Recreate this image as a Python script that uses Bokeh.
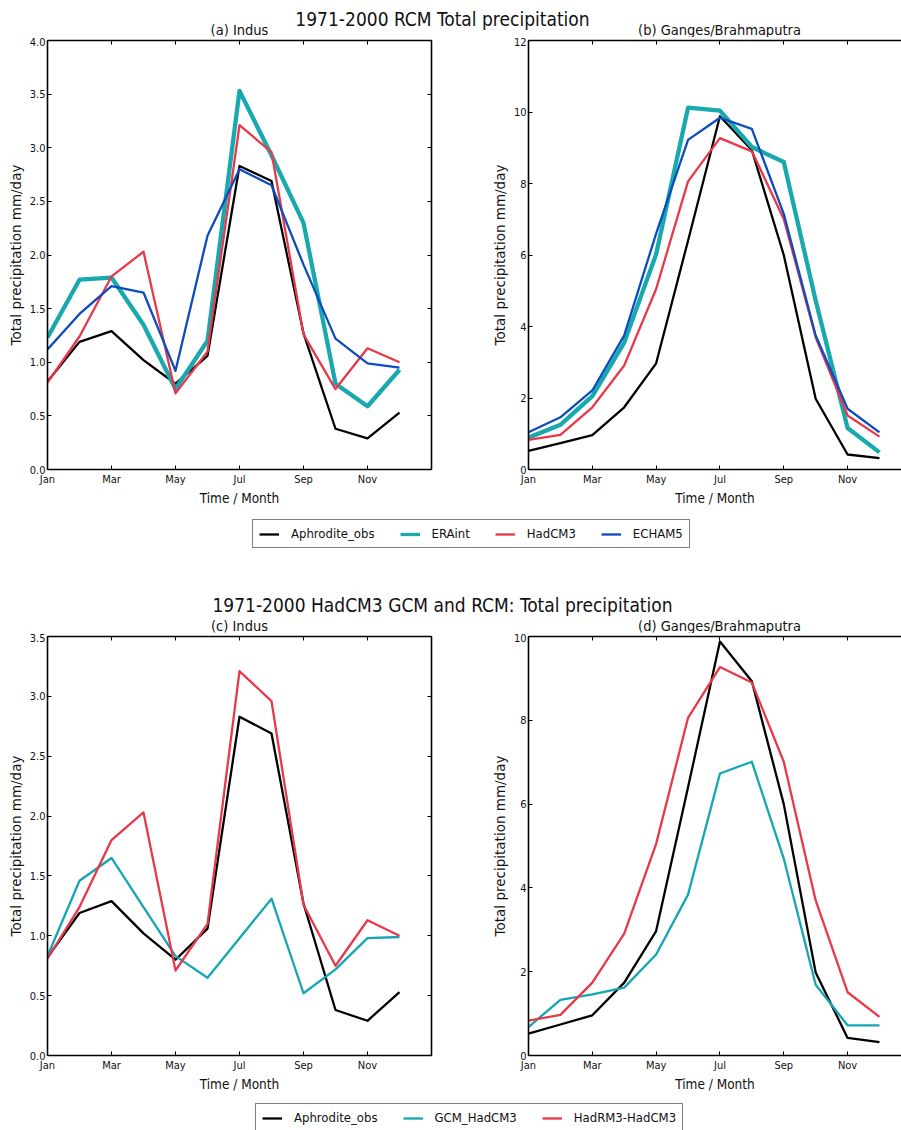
import numpy as np
from bokeh.plotting import figure
from bokeh.models import (Label, Legend, LegendItem, LinearAxis, FixedTicker,
                          Range1d, PrintfTickFormatter)
from bokeh.layouts import column, row
from bokeh.embed import file_html
from bokeh.resources import INLINE

# ---------------- data ----------------
months = list(range(12))
month_ticks = [0, 2, 4, 6, 8, 10, 12]
month_labels = {0: "Jan", 2: "Mar", 4: "May", 6: "Jul", 8: "Sep", 10: "Nov", 12: ""}

indus_obs = [0.82, 1.19, 1.29, 1.02, 0.80, 1.06, 2.83, 2.69, 1.27, 0.38, 0.29, 0.53]
indus_erai = [1.23, 1.77, 1.79, 1.35, 0.75, 1.20, 3.53, 2.93, 2.30, 0.80, 0.59, 0.93]
indus_hadcm3 = [0.81, 1.24, 1.80, 2.03, 0.71, 1.10, 3.21, 2.96, 1.26, 0.75, 1.13, 1.00]
indus_echam5 = [1.12, 1.45, 1.71, 1.65, 0.92, 2.18, 2.80, 2.65, 1.91, 1.22, 0.99, 0.95]
indus_gcm = [0.83, 1.46, 1.65, 1.24, 0.83, 0.65, 0.98, 1.31, 0.52, 0.72, 0.98, 0.99]

ganges_obs = [0.52, 0.74, 0.96, 1.74, 2.97, 6.40, 9.88, 8.93, 6.00, 1.98, 0.42, 0.32]
ganges_erai = [0.89, 1.25, 2.05, 3.55, 6.02, 10.12, 10.04, 9.02, 8.60, 4.73, 1.16, 0.48]
ganges_hadcm3 = [0.83, 0.97, 1.74, 2.91, 5.05, 8.06, 9.27, 8.90, 7.01, 3.70, 1.51, 0.92]
ganges_echam5 = [1.04, 1.46, 2.21, 3.75, 6.60, 9.22, 9.84, 9.53, 7.15, 3.75, 1.70, 1.04]
ganges_gcm = [0.68, 1.33, 1.46, 1.62, 2.41, 3.84, 6.73, 7.01, 4.70, 1.69, 0.72, 0.72]

indus_ticks_a = [0.0, 0.5, 1.0, 1.5, 2.0, 2.5, 3.0, 3.5, 4.0]
indus_ticks_c = [0.0, 0.5, 1.0, 1.5, 2.0, 2.5, 3.0, 3.5]
ganges_ticks_b = [0, 2, 4, 6, 8, 10, 12]
ganges_ticks_d = [0, 2, 4, 6, 8, 10]

suptitle1 = "1971-2000 RCM Total precipitation"
suptitle2 = "1971-2000 HadCM3 GCM and RCM: Total precipitation"
titles = ["(a) Indus", "(b) Ganges/Brahmaputra", "(c) Indus", "(d) Ganges/Brahmaputra"]
legend1_labels = ["Aphrodite_obs", "ERAint", "HadCM3", "ECHAM5"]
legend2_labels = ["Aphrodite_obs", "GCM_HadCM3", "HadRM3-HadCM3"]

# ---------------- styles ----------------
C_OBS = "#000000"
C_ERAI = "#18a9ae"
C_HAD = "#e8394a"
C_ECH = "#0c4cbf"
C_GCM = "#14a6b2"
FONT = "DejaVu Sans Condensed"
FONT_V = "DejaVu Sans"
THIN = 2.3
THICK = 4.3
PAGE_W = 901


def panel(width, border_left, border_right, frame_h, x_end, y_end, yticks, yfmt,
          right_axis, series):
    p = figure(width=width, height=3 + frame_h + 46,
               x_range=Range1d(0, x_end), y_range=Range1d(0, y_end),
               output_backend="svg", toolbar_location=None,
               min_border_left=border_left, min_border_right=border_right,
               min_border_top=3, min_border_bottom=46,
               outline_line_color=None)
    p.xgrid.visible = False
    p.ygrid.visible = False
    for ys, color, lw in series:
        p.line(months, ys, line_color=color, line_width=lw, line_join="round")

    xa = p.xaxis[0]
    xa.ticker = FixedTicker(ticks=month_ticks)
    xa.major_label_overrides = month_labels
    xa.axis_label = "Time / Month"
    ya = p.yaxis[0]
    ya.ticker = FixedTicker(ticks=yticks)
    ya.formatter = PrintfTickFormatter(format=yfmt)
    ya.axis_label = "Total precipitation mm/day"
    for ax in (xa, ya):
        ax.major_tick_in = 4
        ax.major_tick_out = 0
        ax.minor_tick_in = 0
        ax.minor_tick_out = 0
        ax.axis_line_width = 1.6
        ax.axis_line_color = "black"
        ax.major_tick_line_color = "black"
        ax.major_label_text_font = FONT
        ax.major_label_text_font_size = "11px"
        ax.major_label_text_color = "#111111"
        ax.major_label_standoff = 3
        ax.axis_label_text_font_style = "normal"
        ax.axis_label_text_color = "#111111"
    xa.axis_label_text_font = FONT
    xa.axis_label_text_font_size = "13.5px"
    xa.axis_label_standoff = 1
    ya.axis_label_text_font = FONT_V
    ya.axis_label_text_font_size = "13.5px"
    ya.axis_label_standoff = 3
    ya.major_label_standoff = 2

    top = LinearAxis(ticker=FixedTicker(ticks=month_ticks),
                     major_label_text_font_size="0px",
                     major_label_text_color=None, major_label_standoff=0,
                     major_tick_in=4, major_tick_out=0, minor_tick_in=0,
                     minor_tick_out=0, axis_line_width=1.6,
                     axis_line_color="black")
    p.add_layout(top, "above")
    if right_axis:
        rt = LinearAxis(ticker=FixedTicker(ticks=yticks),
                        major_label_text_font_size="0px",
                        major_label_text_color=None, major_label_standoff=0,
                        major_tick_in=4, major_tick_out=0, minor_tick_in=0,
                        minor_tick_out=0, axis_line_width=1.6,
                        axis_line_color="black")
        p.add_layout(rt, "right")
    return p


def text_fig(h, items):
    t = figure(width=PAGE_W, height=h, x_range=Range1d(0, PAGE_W), y_range=Range1d(0, h),
               output_backend="svg", toolbar_location=None, min_border=0,
               x_axis_type=None, y_axis_type=None, outline_line_color=None)
    t.xgrid.visible = False
    t.ygrid.visible = False
    for x, y, txt, size in items:
        t.add_layout(Label(x=x, y=y, text=txt, text_align="center",
                           text_baseline="middle", text_font=FONT,
                           text_font_size=size, text_color="#111111"))
    return t


def legend_fig(h, loc, entries):
    lf = figure(width=PAGE_W, height=h, x_range=Range1d(0, PAGE_W), y_range=Range1d(0, 1),
                output_backend="svg", toolbar_location=None, min_border=0,
                x_axis_type=None, y_axis_type=None, outline_line_color=None)
    lf.xgrid.visible = False
    lf.ygrid.visible = False
    items = []
    nan2 = np.array([np.nan, np.nan])
    for label, color, lw in entries:
        r = lf.line(x=np.array([0.0, 1.0]), y=nan2, line_color=color, line_width=lw)
        items.append(LegendItem(label=label, renderers=[r]))
    leg = Legend(items=items, orientation="horizontal", location=loc,
                 border_line_color="black", border_line_width=1.5,
                 padding=6, spacing=25, margin=0, glyph_width=20,
                 glyph_height=14, label_standoff=12, label_height=15,
                 label_text_font=FONT, label_text_font_size="13px",
                 label_text_color="#111111", background_fill_alpha=1.0)
    lf.add_layout(leg)
    return lf


# ---------------- figures ----------------
title1 = text_fig(37, [(442, 19, suptitle1, "19px"),
                       (239, 7.5, titles[0], "14.5px"),
                       (719, 7.5, titles[1], "14.5px")])

pa = panel(488, 47, 57, 429, 12, 4.0, indus_ticks_a, "%.1f", True,
           [(indus_obs, C_OBS, THIN), (indus_erai, C_ERAI, THICK),
            (indus_hadcm3, C_HAD, THIN), (indus_echam5, C_ECH, THIN)])
pb = panel(413, 39, 0, 429, 11.69, 12, ganges_ticks_b, "%d", False,
           [(ganges_obs, C_OBS, THIN), (ganges_erai, C_ERAI, THICK),
            (ganges_hadcm3, C_HAD, THIN), (ganges_echam5, C_ECH, THIN)])

leg1 = legend_fig(75, (252, 42),
                  [(legend1_labels[0], C_OBS, THIN), (legend1_labels[1], C_ERAI, THICK - 1),
                   (legend1_labels[2], C_HAD, THIN), (legend1_labels[3], C_ECH, THIN)])

title2 = text_fig(43, [(442, 29, suptitle2, "19px"),
                       (239, 7.5, titles[2], "14.5px"),
                       (719, 7.5, titles[3], "14.5px")])

pc = panel(488, 47, 57, 419, 12, 3.5, indus_ticks_c, "%.1f", True,
           [(indus_obs, C_OBS, THIN), (indus_gcm, C_GCM, THIN),
            (indus_hadcm3, C_HAD, THIN)])
pd_ = panel(413, 39, 0, 419, 11.69, 10, ganges_ticks_d, "%d", False,
            [(ganges_obs, C_OBS, THIN), (ganges_gcm, C_GCM, THIN),
             (ganges_hadcm3, C_HAD, THIN)])

leg2 = legend_fig(29, (255, -2),
                  [(legend2_labels[0], C_OBS, THIN), (legend2_labels[1], C_GCM, THIN),
                   (legend2_labels[2], C_HAD, THIN)])

page = column(title1, row(pa, pb), leg1, title2, row(pc, pd_), leg2)
open("out.html", "w").write(file_html(page, INLINE))
